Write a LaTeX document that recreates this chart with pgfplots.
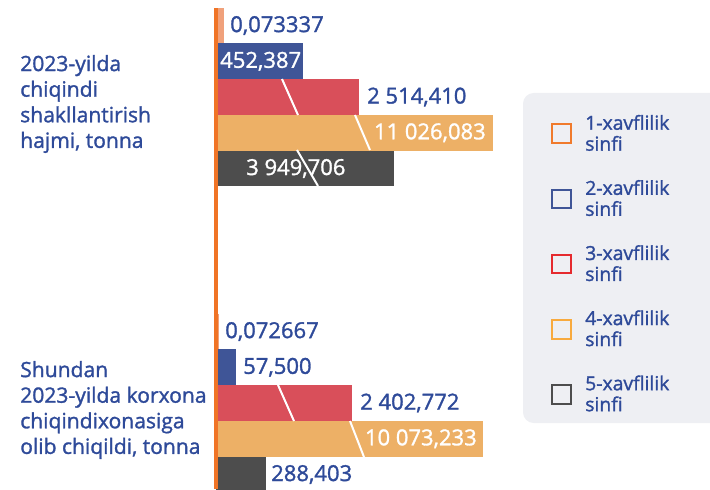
\documentclass[border=0pt]{standalone}
\usepackage{fontspec}
\setmainfont{Open Sans}[FakeBold=1.4]
\usepackage{pgfplots}
\pgfplotsset{compat=1.18}

\definecolor{txtblue}{HTML}{2E4A99}
\definecolor{axorange}{HTML}{F07426}
\definecolor{c1}{HTML}{F0A17B}
\definecolor{c2}{HTML}{3F5597}
\definecolor{c3}{HTML}{D94F5A}
\definecolor{c4}{HTML}{EDB066}
\definecolor{c5}{HTML}{4D4D4D}
\definecolor{l1}{HTML}{F07A2C}
\definecolor{l3}{HTML}{E52A2E}
\definecolor{l4}{HTML}{F8AA3E}
\definecolor{legbg}{HTML}{EEEFF3}

\begin{document}
\begin{tikzpicture}
	\begin{axis}[
			at={(162pt,0pt)}, anchor=south west,
			scale only axis, width=370.5pt, height=360.75pt,
			xmin=0, xmax=494, ymin=-0.2908, ymax=1.2810, y dir=reverse,
			axis on top,
			axis x line=none, axis y line*=left,
			y axis line style={axorange, line width=2.4pt},
			ytick={0,1}, major tick length=0,
			yticklabels={{2023-yilda\\chiqindi\\shakllantirish\\hajmi, tonna},
					{Shundan\\2023-yilda korxona\\chiqindixonasiga\\olib chiqildi, tonna}},
			yticklabel style={anchor=west, align=left, xshift=-147pt, yshift=-5.25pt,
					inner sep=0pt, text=txtblue, font=\fontsize{15.8}{19.2}\selectfont},
			xbar, bar width=26.8pt,
			nodes near coords, point meta=explicit symbolic,
			every node near coord/.append style={font=\fontsize{16.5}{19}\selectfont,
					text=txtblue, inner sep=0pt, anchor=west},
			legend image code/.code={\draw[line width=1.5pt,#1] (0pt,-7pt) rectangle (14pt,7pt);},
			legend style={at={(axis cs:335,0.049)}, anchor=north west, draw=none, fill=none,
					inner sep=0pt, row sep=16.5pt, column sep=8pt,
					cells={anchor=west, align=left, text=txtblue},
					font=\fontsize{14.5}{15.75}\selectfont},
		]
		% legend background
		\fill[legbg, rounded corners=8pt] (axis cs:307,-0.0131) rectangle (axis cs:520,1.0654);

		\addlegendimage{draw=l1}\addlegendentry{1-xavflilik\\sinfi}
		\addlegendimage{draw=c2}\addlegendentry{2-xavflilik\\sinfi}
		\addlegendimage{draw=l3}\addlegendentry{3-xavflilik\\sinfi}
		\addlegendimage{draw=l4}\addlegendentry{4-xavflilik\\sinfi}
		\addlegendimage{draw=c5}\addlegendentry{5-xavflilik\\sinfi}

		% 2023-yilda chiqindi shakllantirish hajmi (bar length = drawn length, broken axis)
		\addplot[forget plot, fill=c1, draw=none, bar shift=53.6pt,
			every node near coord/.append style={xshift=4.5pt}] coordinates {(8,0) [0,073337]};
		\addplot[forget plot, fill=c2, draw=none, bar shift=26.8pt,
			every node near coord/.append style={xshift=-62.25pt, text=white}] coordinates {(87,0) [452,387]};
		\addplot[forget plot, fill=c3, draw=none, bar shift=0pt,
			every node near coord/.append style={xshift=6pt}] coordinates {(143,0) [2~514,410]};
		\addplot[forget plot, fill=c4, draw=none, bar shift=-26.8pt,
			every node near coord/.append style={anchor=east, xshift=-5.25pt, text=white}] coordinates {(277,0) [11~026,083]};
		\addplot[forget plot, fill=c5, draw=none, bar shift=-53.6pt,
			every node near coord/.append style={xshift=-111pt, text=white}] coordinates {(178,0) [3~949,706]};

		% Shundan korxona chiqindixonasiga olib chiqildi
		\addplot[forget plot, fill=c1, draw=none, bar shift=53.6pt,
			every node near coord/.append style={xshift=4.5pt}] coordinates {(3,1) [0,072667]};
		\addplot[forget plot, fill=c2, draw=none, bar shift=26.8pt,
			every node near coord/.append style={xshift=5.25pt}] coordinates {(20,1) [57,500]};
		\addplot[forget plot, fill=c3, draw=none, bar shift=0pt,
			every node near coord/.append style={xshift=6pt}] coordinates {(136,1) [2~402,772]};
		\addplot[forget plot, fill=c4, draw=none, bar shift=-26.8pt,
			every node near coord/.append style={anchor=east, xshift=-4.5pt, text=white}] coordinates {(267,1) [10~073,233]};
		\addplot[forget plot, fill=c5, draw=none, bar shift=-53.6pt,
			every node near coord/.append style={xshift=3.75pt}] coordinates {(50,1) [288,403]};

		% axis break marks
		\draw[white, line width=1.5pt] (axis cs:66,-0.0588) -- (axis cs:82,0.0588);
		\draw[white, line width=1.5pt] (axis cs:139,0.0588) -- (axis cs:154,0.1732);
		\draw[white, line width=1.5pt] (axis cs:81,0.1732) -- (axis cs:102,0.2908);
		\draw[white, line width=1.5pt] (axis cs:62,0.9412) -- (axis cs:78,1.0588);
		\draw[white, line width=1.5pt] (axis cs:134,1.0588) -- (axis cs:148,1.1765);
	\end{axis}
	\pgfresetboundingbox
	\path[use as bounding box] (0,0) rectangle (532.5pt,366.75pt);
\end{tikzpicture}
\end{document}
